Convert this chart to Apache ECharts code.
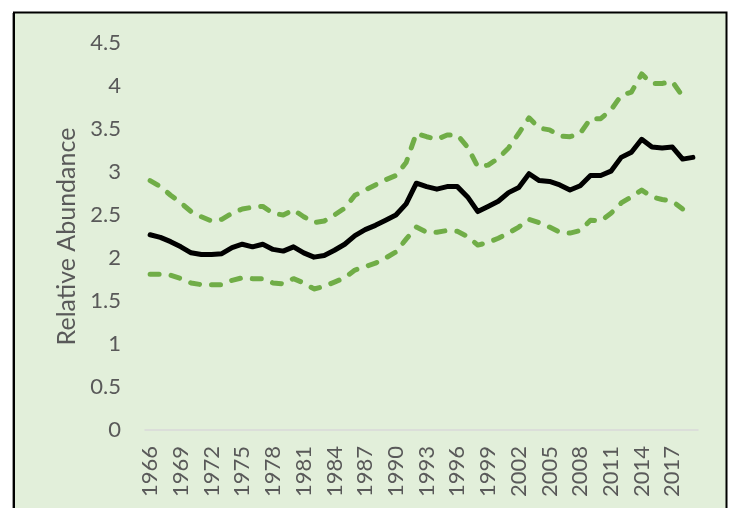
<!DOCTYPE html>
<html>
<head>
<meta charset="utf-8">
<script src="https://cdn.jsdelivr.net/npm/echarts@6/dist/echarts.min.js"></script>
<style>html,body{margin:0;padding:0;background:#fff;}#c{width:736px;height:508px;}</style>
</head>
<body>
<div id="c"></div>
<script>
var years = [];
for (var y = 1966; y <= 2019; y++) years.push(String(y));

var yTicks = [0, 0.5, 1, 1.5, 2, 2.5, 3, 3.5, 4, 4.5];

var mean = [2.27, 2.24, 2.19, 2.13, 2.06, 2.04, 2.04, 2.05, 2.12, 2.16,
            2.13, 2.16, 2.10, 2.08, 2.13, 2.06, 2.01, 2.03, 2.09, 2.16,
            2.26, 2.33, 2.38, 2.44, 2.50, 2.63, 2.87, 2.83, 2.80, 2.83,
            2.83, 2.71, 2.54, 2.60, 2.66, 2.76, 2.82, 2.98, 2.90, 2.89,
            2.85, 2.79, 2.84, 2.96, 2.96, 3.01, 3.17, 3.23, 3.38, 3.29,
            3.28, 3.29, 3.15, 3.17];

var upper = [2.90, 2.83, 2.73, 2.64, 2.54, 2.48, 2.43, 2.45, 2.52, 2.57,
             2.59, 2.60, 2.52, 2.50, 2.56, 2.48, 2.41, 2.43, 2.50, 2.58,
             2.73, 2.79, 2.85, 2.91, 2.96, 3.11, 3.45, 3.41, 3.38, 3.43,
             3.43, 3.29, 3.06, 3.08, 3.16, 3.28, 3.45, 3.63, 3.51, 3.49,
             3.42, 3.41, 3.45, 3.62, 3.62, 3.72, 3.89, 3.93, 4.14, 4.03,
             4.03, 4.05, 3.88];

var lower = [1.81, 1.81, 1.80, 1.76, 1.71, 1.69, 1.69, 1.69, 1.74, 1.77,
             1.76, 1.76, 1.71, 1.70, 1.76, 1.71, 1.64, 1.67, 1.72, 1.77,
             1.86, 1.90, 1.94, 2.00, 2.07, 2.22, 2.36, 2.30, 2.30, 2.32,
             2.31, 2.25, 2.15, 2.18, 2.23, 2.29, 2.36, 2.45, 2.41, 2.36,
             2.30, 2.29, 2.32, 2.44, 2.43, 2.52, 2.64, 2.71, 2.79, 2.71,
             2.68, 2.66, 2.57];

var chart = echarts.init(document.getElementById('c'), null, {renderer: 'canvas'});
var FONT = 'Lato, "Open Sans", sans-serif';
var dashStyle = {color: '#70AD47', width: 5, type: [9, 12], cap: 'round', join: 'round'};

chart.setOption({
  backgroundColor: '#ffffff',
  animation: false,
  graphic: [
    {type: 'rect', z: -100, silent: true,
     shape: {x: 14, y: 12.5, width: 712.5, height: 520},
     style: {fill: '#E2EFDA', stroke: '#000', lineWidth: 2}},
    {type: 'line', z: -99, silent: true,
     shape: {x1: 12.5, y1: 13, x2: 12.5, y2: 520},
     style: {stroke: '#9a9a9a', lineWidth: 1}}
  ],
  grid: {left: 145, right: 38, top: 43, bottom: 78, containLabel: false},
  xAxis: {
    type: 'category',
    data: years,
    boundaryGap: true,
    axisLine: {show: true, lineStyle: {color: '#D9D9D9', width: 1.5}},
    axisTick: {show: false},
    axisLabel: {interval: 2, rotate: 90, margin: 16, color: '#595959',
                fontSize: 22, fontFamily: FONT}
  },
  yAxis: {
    type: 'value',
    min: yTicks[0], max: yTicks[yTicks.length - 1], interval: 0.5,
    name: 'Relative Abundance',
    nameLocation: 'middle',
    nameRotate: 90,
    nameGap: 64,
    nameTextStyle: {color: '#595959', fontSize: 25, fontFamily: FONT},
    axisLine: {show: false},
    axisTick: {show: false},
    splitLine: {show: false},
    axisLabel: {margin: 24, color: '#595959', fontSize: 22, fontFamily: FONT,
                formatter: function (v) { return String(v); }}
  },
  series: [
    {name: 'Upper', type: 'line', data: upper, symbol: 'none', lineStyle: dashStyle, z: 3},
    {name: 'Lower', type: 'line', data: lower, symbol: 'none', lineStyle: dashStyle, z: 3},
    {name: 'Index', type: 'line', data: mean, symbol: 'none',
     lineStyle: {color: '#000000', width: 5, join: 'round', cap: 'round'}, z: 4}
  ]
});
</script>
</body>
</html>
